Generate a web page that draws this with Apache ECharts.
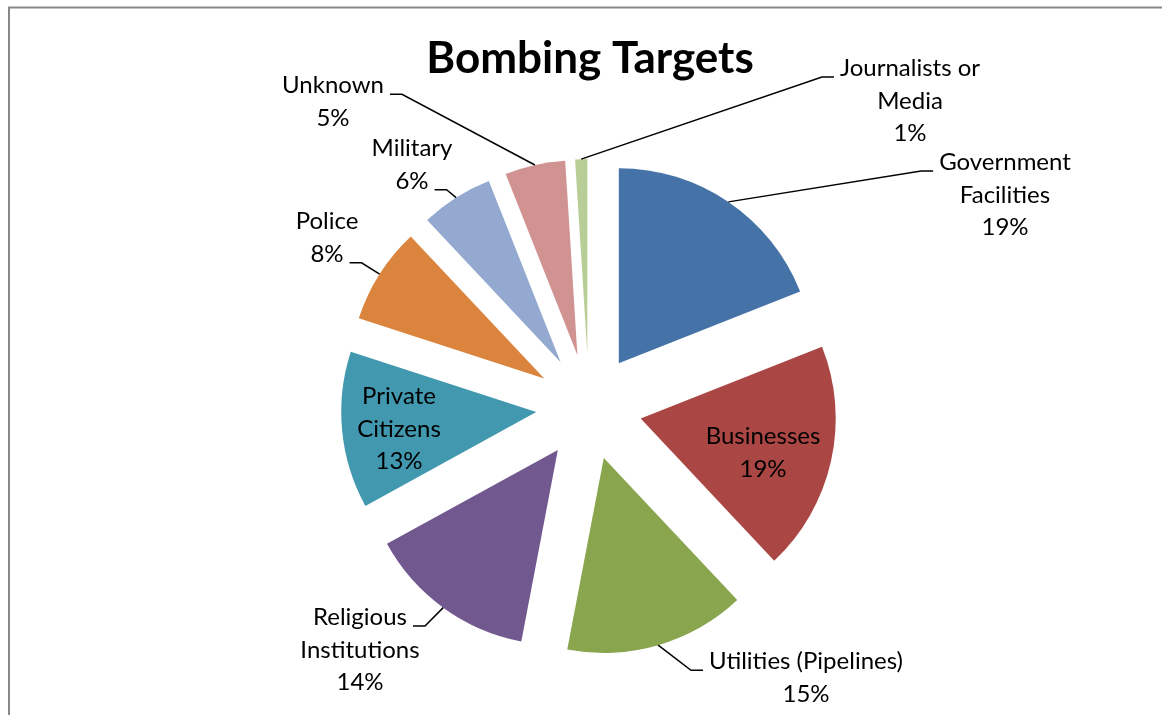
<!DOCTYPE html>
<html>
<head>
<meta charset="utf-8">
<title>Bombing Targets</title>
<script src="https://cdn.jsdelivr.net/npm/echarts@6/dist/echarts.min.js"></script>
<style>
  html, body { margin: 0; padding: 0; background: #ffffff; }
  #chart { width: 1162px; height: 715px; }
</style>
</head>
<body>
<div id="chart"></div>
<script>
// Target categories, clockwise from 12 o'clock
const categories = [
  'Government Facilities', 'Businesses', 'Utilities (Pipelines)',
  'Religious Institutions', 'Private Citizens', 'Police',
  'Military', 'Unknown', 'Journalists or Media'
];
// Share of bombings per target type (%)
const shares = [19, 19, 15, 14, 13, 8, 6, 5, 1];
// How each category name wraps in its label
const labelNames = [
  'Government\nFacilities', 'Businesses', 'Utilities (Pipelines)',
  'Religious\nInstitutions', 'Private\nCitizens', 'Police',
  'Military', 'Unknown', 'Journalists or\nMedia'
];

// ---- styling / layout ----
const sliceColors = ['#4572A7', '#AA4643', '#89A54E', '#71588F', '#4198AF',
                     '#DB843D', '#93A9CF', '#D19392', '#B9CD96'];
const insideLabel = [false, true, false, false, true, false, false, false, false];
// Centre of each label's text block [x, y]
const labelCentres = [
  [1005, 195], [763, 453], [806, 678], [360, 650], [399, 429],
  [327, 238], [412, 165], [333, 102], [910, 101]
];
// Which text line the leader line meets: 0 = first line, -1 = last line
const leaderLine = [0, 0, 0, 0, 0, -1, -1, 0, 0];

const CENTER = [589, 407];
const RADIUS = 195;
const EXPLODE = 53;
const FONT = 'Lato, "Open Sans", "Noto Sans", sans-serif';
const FONT_SIZE = 24;
const LINE_H = 32.5;
const BASELINE_DY = 8.5;   // baseline below a text line's centre
const LEADER_GAP = 6;      // gap between text and leader line
const LEADER_RUN = 12;     // short horizontal run next to the label

const measureCtx = document.createElement('canvas').getContext('2d');
measureCtx.font = FONT_SIZE + 'px ' + FONT;
const textWidth = s => measureCtx.measureText(s).width;

const labelText = i => labelNames[i] + '\n' + shares[i] + '%';

const chart = echarts.init(document.getElementById('chart'), null, { renderer: 'canvas' });

// Exploded slices
const sliceData = categories.map((name, i) => ({
  name: name,
  value: shares[i],
  selected: true,
  itemStyle: { color: sliceColors[i] }
}));

// Label carrier: same values on an invisible ring whose rim lies on the exploded slices' rims
const labelData = categories.map((name, i) => ({
  name: name,
  value: shares[i],
  itemStyle: { color: 'rgba(0,0,0,0)' },
  labelLine: { show: !insideLabel[i] }
}));

chart.setOption({
  animation: false,
  backgroundColor: '#ffffff',
  title: {
    text: 'Bombing Targets',
    left: 590,
    top: 37,
    padding: 0,
    textAlign: 'center',
    textStyle: { fontFamily: FONT, fontWeight: 'bold', fontSize: 44, color: '#000000' }
  },
  graphic: [{
    type: 'rect',
    silent: true,
    z: -10,
    shape: { x: 9, y: 7.5, width: 1400, height: 1000 },
    style: { fill: 'none', stroke: '#878787', lineWidth: 2 }
  }],
  series: [{
    type: 'pie',
    name: 'Bombing Targets',
    center: CENTER,
    radius: RADIUS,
    startAngle: 90,
    clockwise: true,
    selectedMode: 'multiple',
    selectedOffset: EXPLODE,
    silent: true,
    emphasis: { disabled: true },
    itemStyle: { borderWidth: 0 },
    label: { show: false },
    labelLine: { show: false },
    data: sliceData,
    z: 2
  }, {
    type: 'pie',
    name: 'labels',
    center: CENTER,
    radius: RADIUS + EXPLODE,
    startAngle: 90,
    clockwise: true,
    silent: true,
    avoidLabelOverlap: false,
    emphasis: { disabled: true },
    itemStyle: { borderWidth: 0 },
    label: {
      show: true,
      position: 'outside',
      color: '#000000',
      fontFamily: FONT,
      fontSize: FONT_SIZE,
      lineHeight: LINE_H,
      align: 'center',
      overflow: 'none',
      formatter: p => labelText(p.dataIndex)
    },
    labelLine: {
      show: true,
      length: 10,
      length2: 10,
      smooth: false,
      lineStyle: { color: '#000000', width: 1.5 }
    },
    labelLayout: params => {
      const i = params.dataIndex;
      const c = labelCentres[i];
      const out = { x: c[0], y: c[1], align: 'center', verticalAlign: 'middle' };
      const pts = params.labelLinePoints;
      if (!insideLabel[i] && pts && pts.length) {
        // leader starts where the library put it: the slice rim at mid-angle
        const anchor = pts[0];
        const lines = labelText(i).split('\n');
        const k = leaderLine[i] < 0 ? lines.length - 1 : 0;
        const half = textWidth(lines[k]) / 2;
        const y = c[1] + (k - (lines.length - 1) / 2) * LINE_H + BASELINE_DY;
        const fromRight = c[0] < anchor[0];
        const endX = fromRight ? c[0] + half + LEADER_GAP : c[0] - half - LEADER_GAP;
        const elbowX = fromRight ? endX + LEADER_RUN : endX - LEADER_RUN;
        out.labelLinePoints = [[anchor[0], anchor[1]], [elbowX, y], [endX, y]];
      }
      return out;
    },
    data: labelData,
    z: 3
  }]
});
</script>
</body>
</html>
